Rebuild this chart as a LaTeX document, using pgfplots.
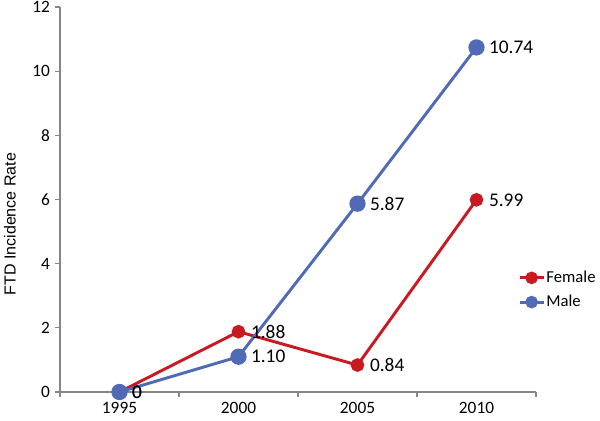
\documentclass[border=0pt]{standalone}
\usepackage{pgfplots}
\pgfplotsset{compat=1.18}
\usepackage{fontspec}
\setmainfont{Carlito}
\newfontfamily\arialf{Liberation Sans}
\definecolor{fred}{RGB}{200,26,32}
\definecolor{mblue}{RGB}{80,106,182}
\definecolor{axgray}{RGB}{134,134,134}
\begin{document}
\begin{tikzpicture}
\path[use as bounding box] (-45pt,-21.75pt) rectangle (405pt,294pt);
\begin{axis}[
  at={(0,0)}, anchor=south west,
  scale only axis, width=357pt, height=288.75pt,
  xmin=-0.5, xmax=3.5, ymin=0, ymax=12,
  axis lines*=left,
  x axis line style={-, draw=axgray, line width=0.8pt},
  y axis line style={-, draw=axgray, line width=0.8pt},
  xtick={0,1,2,3}, xticklabels={1995,2000,2005,2010},
  major x tick style={draw=none},
  minor xtick={-0.5,0.5,1.5,2.5,3.5},
  minor x tick style={draw=axgray, line width=0.8pt},
  ytick={0,2,...,12},
  y tick style={draw=axgray, line width=0.8pt},
  tick align=outside,
  major tick length=4pt, minor tick length=4pt,
  tick label style={font=\fontsize{13pt}{15pt}\selectfont, text=black},
  /pgf/number format/assume math mode=true,
  ylabel={FTD Incidence Rate},
  every axis y label/.style={at={(axis description cs:-0.105,0.436)}, rotate=90, anchor=center, font=\arialf\fontsize{12pt}{14pt}\selectfont},
  legend style={draw=none, fill=none, at={(axis description cs:0.962,0.265)}, anchor=west,
    font=\fontsize{12.5pt}{15pt}\selectfont, row sep=4pt, inner sep=0pt,
    nodes={inner xsep=1pt}},
  legend cell align=left,
  legend image code/.code={\draw[#1, mark=none] (0pt,0pt) -- (18pt,0pt); \draw[#1, mark repeat=2, mark phase=2, mark size=3.6pt] plot coordinates {(0pt,0pt) (9pt,0pt) (18pt,0pt)};},
  nodes near coords,
  point meta=explicit symbolic,
  every node near coord/.style={anchor=west, xshift=5pt, font=\fontsize{14.5pt}{16pt}\selectfont, text=black},
  clip=false,
]
\addplot[color=fred, line width=2.2pt, mark=*, mark size=4pt, mark options={solid, fill=fred, draw=none}]
  coordinates {(0,0) [0] (1,1.88) [1.88] (2,0.84) [0.84] (3,5.99) [5.99]};
\addlegendentry{Female}
\addplot[color=mblue, line width=2.2pt, mark=*, mark size=5pt, mark options={solid, fill=mblue, draw=none}]
  coordinates {(0,0) [0] (1,1.10) [1.10] (2,5.87) [5.87] (3,10.74) [10.74]};
\addlegendentry{Male}
\end{axis}
\end{tikzpicture}
\end{document}
